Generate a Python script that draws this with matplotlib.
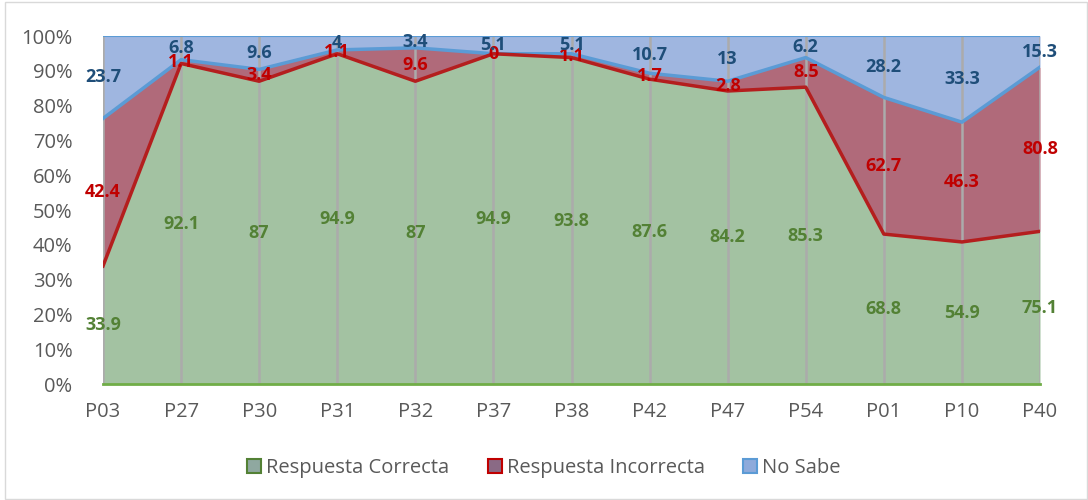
import matplotlib
matplotlib.use("Agg")
import matplotlib.pyplot as plt
import numpy as np
from matplotlib.patches import Patch, Rectangle
from matplotlib.ticker import FuncFormatter

categories = ["P03", "P27", "P30", "P31", "P32", "P37", "P38", "P42", "P47", "P54", "P01", "P10", "P40"]
correcta = [33.9, 92.1, 87, 94.9, 87, 94.9, 93.8, 87.6, 84.2, 85.3, 68.8, 54.9, 75.1]
incorrecta = [42.4, 1.1, 3.4, 1.1, 9.6, 0, 1.1, 1.7, 2.8, 8.5, 62.7, 46.3, 80.8]
no_sabe = [23.7, 6.8, 9.6, 4, 3.4, 5.1, 5.1, 10.7, 13, 6.2, 28.2, 33.3, 15.3]
labels = ["Respuesta Correcta", "Respuesta Incorrecta", "No Sabe"]

plt.rcParams['font.family'] = ['Open Sans', 'DejaVu Sans']

c = np.array(correcta, float)
i = np.array(incorrecta, float)
n = np.array(no_sabe, float)
tot = c + i + n
pc = c / tot * 100
pi = i / tot * 100
pn = n / tot * 100
x = np.arange(len(categories))

fig = plt.figure(figsize=(10.88, 5.0), dpi=100)
ax = fig.add_axes([103/1088, 1-384/500, (1040-103)/1088, (384-36)/500])

fill_c = "#a3c2a2"
fill_i = "#b06a7a"
fill_n = "#9fb6e0"
ax.fill_between(x, 0, pc, color=fill_c, lw=0, zorder=1)
ax.fill_between(x, pc, pc + pi, color=fill_i, lw=0, zorder=1)
ax.fill_between(x, pc + pi, 100, color=fill_n, lw=0, zorder=1)

for xi in x:
    ax.axvline(xi, color="#ababab", lw=1.8, zorder=2)

ax.plot(x, pc + pi, color="#5b9bd5", lw=2.5, zorder=3)
ax.plot(x, pc, color="#b41e1e", lw=2.5, zorder=3)
ax.plot([x[0], x[-1]], [100, 100], color="#5b9bd5", lw=1.5, zorder=3)
ax.plot([x[0], x[-1]], [0, 0], color="#70ad47", lw=2, zorder=3, clip_on=False)

fs = 13
for xi in x:
    ax.text(xi, pc[xi] / 2, f"{correcta[xi]:g}", color="#538135", fontsize=fs,
            fontweight="bold", ha="center", va="center", zorder=5)
    ax.text(xi, pc[xi] + pi[xi] / 2, f"{incorrecta[xi]:g}", color="#c00000", fontsize=fs,
            fontweight="bold", ha="center", va="center", zorder=5)
    ax.text(xi, pc[xi] + pi[xi] + pn[xi] / 2, f"{no_sabe[xi]:g}", color="#1f4e79", fontsize=fs,
            fontweight="bold", ha="center", va="center", zorder=5)

ax.set_xlim(x[0], x[-1])
ax.set_ylim(0, 100)
ax.set_yticks(np.arange(0, 101, 10))
ax.yaxis.set_major_formatter(FuncFormatter(lambda v, p: f"{v:.0f}%"))
ax.set_xticks(x)
ax.set_xticklabels(categories)
ax.tick_params(axis="both", length=0, labelsize=14.5, labelcolor="#595959")
ax.tick_params(axis="x", pad=13)
ax.tick_params(axis="y", pad=22)
for s in ax.spines.values():
    s.set_visible(False)

handles = [Patch(facecolor="#8fa8a0", edgecolor="#538135", lw=1.5),
           Patch(facecolor="#8a6a85", edgecolor="#c00000", lw=1.5),
           Patch(facecolor="#8eaadb", edgecolor="#5b9bd5", lw=1.5)]
fig.legend(handles, labels, loc="center", bbox_to_anchor=(0.5, 1-468/500), ncol=3,
           frameon=False, fontsize=14.5, labelcolor="#595959", handlelength=0.7,
           handleheight=0.7, handletextpad=0.25, columnspacing=1.9)

fig.patches.append(Rectangle((5/1088, 0.003), 1 - 6/1088, 0.994, transform=fig.transFigure,
                             fill=False, edgecolor="#d9d9d9", lw=1))

fig.savefig("out.png", dpi=100)
